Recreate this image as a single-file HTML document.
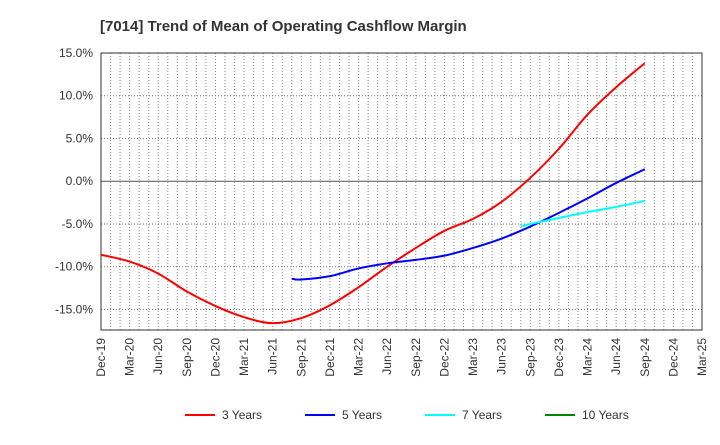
<!DOCTYPE html>
<html><head><meta charset="utf-8"><style>
body{margin:0;background:#fff;font-family:"Liberation Sans",Arial,sans-serif}
svg text{font-family:"Liberation Sans",Arial,sans-serif}
</style></head><body>
<svg id="c" width="720" height="440"></svg>
<script>
const xLabels=["Dec-19","Mar-20","Jun-20","Sep-20","Dec-20","Mar-21","Jun-21","Sep-21","Dec-21","Mar-22","Jun-22","Sep-22","Dec-22","Mar-23","Jun-23","Sep-23","Dec-23","Mar-24","Jun-24","Sep-24","Dec-24","Mar-25"];
const yTicks=[15,10,5,0,-5,-10,-15];
const red3Months=[0,3,6,9,12,15,18,21,24,27,30,33,36,39,42,45,48,51,54,57];
const red3Values=[-8.6,-9.4,-10.8,-12.9,-14.6,-15.9,-16.6,-16.0,-14.5,-12.4,-10.0,-7.8,-5.8,-4.4,-2.4,0.4,3.8,7.8,11.0,13.8];
const blue5Months=[20,21,24,27,30,33,36,39,42,45,48,51,54,57];
const blue5Values=[-11.4,-11.5,-11.1,-10.2,-9.6,-9.2,-8.7,-7.8,-6.7,-5.3,-3.7,-2.0,-0.2,1.4];
const cyan7Months=[44,45,48,51,54,57];
const cyan7Values=[-5.3,-5.0,-4.3,-3.6,-3.0,-2.3];
const L=101,R=702,T=53,B=330,yMax=15,yMin=-17.4,nMonths=63;
const X=m=>L+(R-L)*m/nMonths;
const Y=v=>T+(B-T)*(yMax-v)/(yMax-yMin);
const svg=document.getElementById('c');const NS="http://www.w3.org/2000/svg";
function el(t,a,p){const e=document.createElementNS(NS,t);for(const k in a)e.setAttribute(k,a[k]);(p||svg).appendChild(e);return e;}
let t=el('text',{x:100,y:31,'font-size':15,'font-weight':'bold',fill:'#333'});t.textContent="[7014]  Trend of Mean of Operating Cashflow Margin";


for(let m=1;m<nMonths;m++){const g=el('line',{x1:X(m),x2:X(m),y1:T,y2:B,stroke:'#888','stroke-dasharray':'1,2'});

}
yTicks.forEach(v=>{const g=el('line',{x1:L,x2:R,y1:Y(v),y2:Y(v),stroke:v===0?'#555':'#777','stroke-dasharray':v===0?'':'1,2'});


const tx=el('text',{x:L-8,y:Y(v)+4,'text-anchor':'end','font-size':12,fill:'#333'});tx.textContent=v.toFixed(1)+"%";

});
const fr=el('rect',{x:L,y:T,width:R-L,height:B-T,fill:'none',stroke:'#333'});


xLabels.forEach((s,i)=>{const x=X(i*3);const tx=el('text',{transform:`translate(${x+4},${B+8}) rotate(-90)`,'text-anchor':'end','font-size':12,fill:'#333'});tx.textContent=s;

});
function path(ms,vs,col,name){const p=ms.map((m,i)=>[X(m),Y(vs[i])]);let d=`M${p[0][0]},${p[0][1]}`;
for(let i=0;i<p.length-1;i++){const p0=p[i-1]||p[i],p1=p[i],p2=p[i+1],p3=p[i+2]||p2;
d+=` C${p1[0]+(p2[0]-p0[0])/6},${p1[1]+(p2[1]-p0[1])/6} ${p2[0]-(p3[0]-p1[0])/6},${p2[1]-(p3[1]-p1[1])/6} ${p2[0]},${p2[1]}`;}
const e=el('path',{d,fill:'none',stroke:col,'stroke-width':2});

}
path(red3Months,red3Values,'#f00','line-3-years');
path(blue5Months,blue5Values,'#00f','line-5-years');
path(cyan7Months,cyan7Values,'#0ff','line-7-years');
const leg=[["3 Years","#f00",185],["5 Years","#00f",305],["7 Years","#0ff",425],["10 Years","#080",545]];
leg.forEach(([s,c,x])=>{const g=el('g',{});


el('line',{x1:x,x2:x+30,y1:415,y2:415,stroke:c,'stroke-width':2},g);
const tx=el('text',{x:x+37,y:419,'font-size':12,fill:'#333'},g);tx.textContent=s;});
</script>
</body></html>
